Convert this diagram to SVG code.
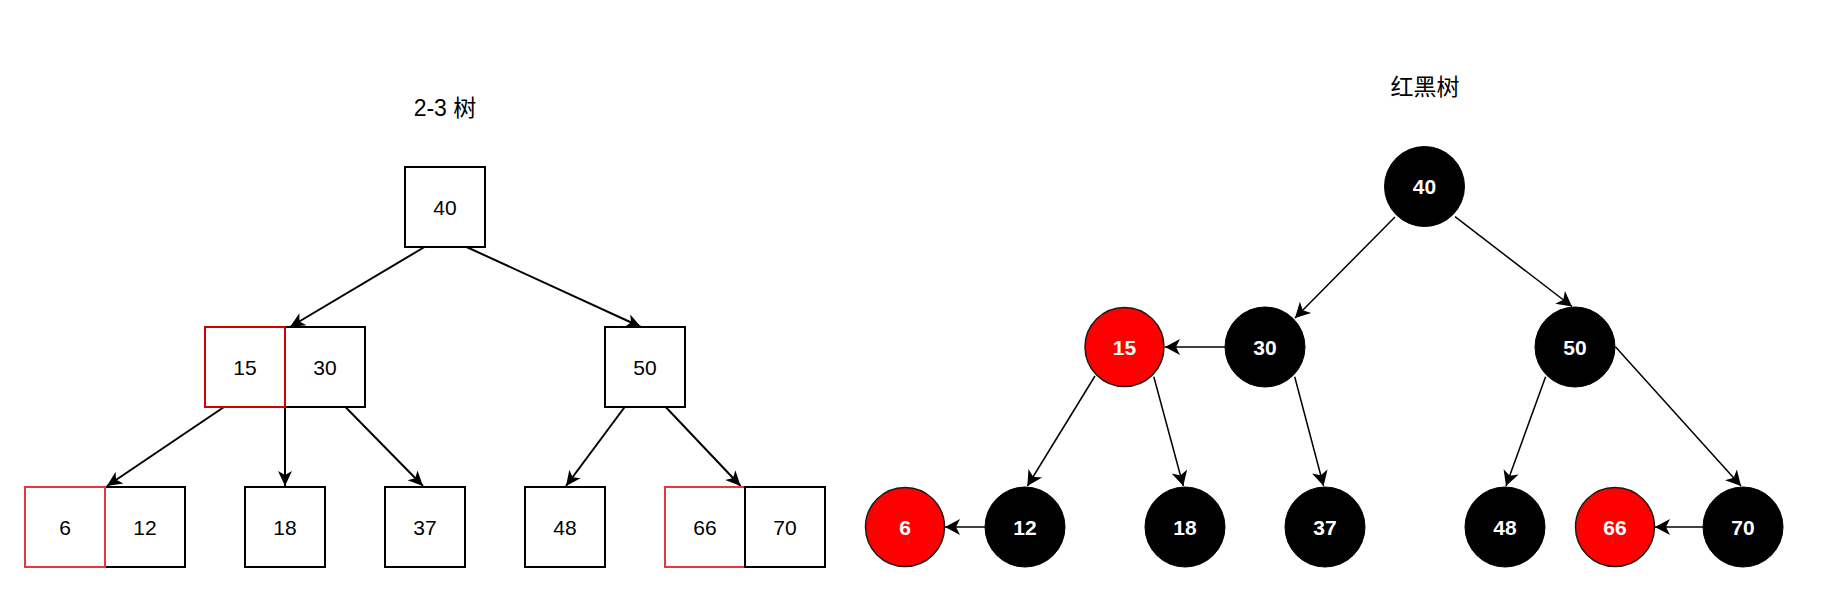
<svg xmlns="http://www.w3.org/2000/svg" width="1836" height="614" viewBox="0 0 1836 614">
<defs>
<style>
.title{font-family:"Liberation Sans","Noto Sans CJK SC",sans-serif;font-size:23px;fill:#000;text-anchor:middle}
.lbl{font-family:"Liberation Sans",Arial,sans-serif;font-size:21px;fill:#000;text-anchor:middle}
.clbl{font-family:"Liberation Sans",Arial,sans-serif;font-size:21px;font-weight:bold;fill:#fff;text-anchor:middle}
.box{fill:#fff;stroke:#000;stroke-width:2}
.rbox{fill:#fff;stroke:#d40000;stroke-width:2}
.rbox2{fill:#fff;stroke:#e0393e;stroke-width:2}
.bc{fill:#000;stroke:#000;stroke-width:1}
.rc{fill:#ff0000;stroke:#1a1a1a;stroke-width:1.5}
.e1{fill:none;stroke:#000;stroke-width:2;marker-end:url(#arr)}
.e2{fill:none;stroke:#000;stroke-width:1.5;marker-end:url(#arr2)}
</style>
<marker id="arr" viewBox="-16 -8 17 16" refX="0" refY="0" markerWidth="17" markerHeight="16" markerUnits="userSpaceOnUse" orient="auto"><path d="M0,0 L-15,-7 L-11,0 L-15,7 Z" fill="#000"/></marker>
<marker id="arr2" viewBox="-16 -9 17 18" refX="0" refY="0" markerWidth="17" markerHeight="18" markerUnits="userSpaceOnUse" orient="auto"><path d="M0,0 L-15,-8 L-11,0 L-15,8 Z" fill="#000"/></marker>
</defs>
<rect width="1836" height="614" fill="#fff"/>
<text class="title" x="445" y="116">2-3 树</text>
<text class="title" x="1425" y="95">红黑树</text>

<g id="connectors">
<path class="e1" d="M424.5,247 L290,327"/>
<path class="e1" d="M466.6,247 L641,327"/>
<path class="e1" d="M224,407 L107,486"/>
<path class="e1" d="M285,400 L285,486"/>
<path class="e1" d="M345.4,407 L423,486"/>
<path class="e1" d="M624.7,407 L566,486"/>
<path class="e1" d="M665.7,407 L740.6,486"/>

<path class="e2" d="M1395,217 L1295,318"/>
<path class="e2" d="M1455,216.7 L1572,306.5"/>
<path class="e2" d="M1225,347 L1165,347"/>
<path class="e2" d="M1095,376 L1027.4,486"/>
<path class="e2" d="M1153.8,376.7 L1183.3,486"/>
<path class="e2" d="M1294.7,376.7 L1323.6,486"/>
<path class="e2" d="M1545.6,376.7 L1506,486"/>
<path class="e2" d="M1615.4,346.7 L1741,486"/>
<path class="e2" d="M985,527 L945,527"/>
<path class="e2" d="M1703,527 L1655,527"/>
</g>

<g id="n40"><rect class="box" x="405" y="167" width="80" height="80"/><text class="lbl" x="445" y="215">40</text></g>
<g id="n15_30"><rect class="box" x="285" y="327" width="80" height="80"/><rect class="rbox" x="205" y="327" width="80" height="80"/><text class="lbl" x="245" y="375">15</text><text class="lbl" x="325" y="375">30</text></g>
<g id="n50"><rect class="box" x="605" y="327" width="80" height="80"/><text class="lbl" x="645" y="375">50</text></g>
<g id="n6_12"><rect class="box" x="105" y="487" width="80" height="80"/><rect class="rbox2" x="25" y="487" width="80" height="80"/><text class="lbl" x="65" y="535">6</text><text class="lbl" x="145" y="535">12</text></g>
<g id="n18"><rect class="box" x="245" y="487" width="80" height="80"/><text class="lbl" x="285" y="535">18</text></g>
<g id="n37"><rect class="box" x="385" y="487" width="80" height="80"/><text class="lbl" x="425" y="535">37</text></g>
<g id="n48"><rect class="box" x="525" y="487" width="80" height="80"/><text class="lbl" x="565" y="535">48</text></g>
<g id="n66_70"><rect class="rbox2" x="665" y="487" width="80" height="80"/><rect class="box" x="745" y="487" width="80" height="80"/><text class="lbl" x="705" y="535">66</text><text class="lbl" x="785" y="535">70</text></g>

<g id="r40"><circle class="bc" cx="1424.5" cy="186.5" r="40"/><text class="clbl" x="1424.5" y="194">40</text></g>
<g id="r30"><circle class="bc" cx="1265" cy="347" r="40"/><text class="clbl" x="1265" y="354.5">30</text></g>
<g id="r15"><circle class="rc" cx="1124.5" cy="347" r="39.5"/><text class="clbl" x="1124.5" y="354.5">15</text></g>
<g id="r50"><circle class="bc" cx="1575" cy="347" r="40"/><text class="clbl" x="1575" y="354.5">50</text></g>
<g id="r6"><circle class="rc" cx="905" cy="527" r="39.5"/><text class="clbl" x="905" y="534.5">6</text></g>
<g id="r12"><circle class="bc" cx="1025" cy="527" r="40"/><text class="clbl" x="1025" y="534.5">12</text></g>
<g id="r18"><circle class="bc" cx="1185" cy="527" r="40"/><text class="clbl" x="1185" y="534.5">18</text></g>
<g id="r37"><circle class="bc" cx="1325" cy="527" r="40"/><text class="clbl" x="1325" y="534.5">37</text></g>
<g id="r48"><circle class="bc" cx="1505" cy="527" r="40"/><text class="clbl" x="1505" y="534.5">48</text></g>
<g id="r66"><circle class="rc" cx="1615" cy="527" r="39.5"/><text class="clbl" x="1615" y="534.5">66</text></g>
<g id="r70"><circle class="bc" cx="1743" cy="527" r="40"/><text class="clbl" x="1743" y="534.5">70</text></g>
</svg>
